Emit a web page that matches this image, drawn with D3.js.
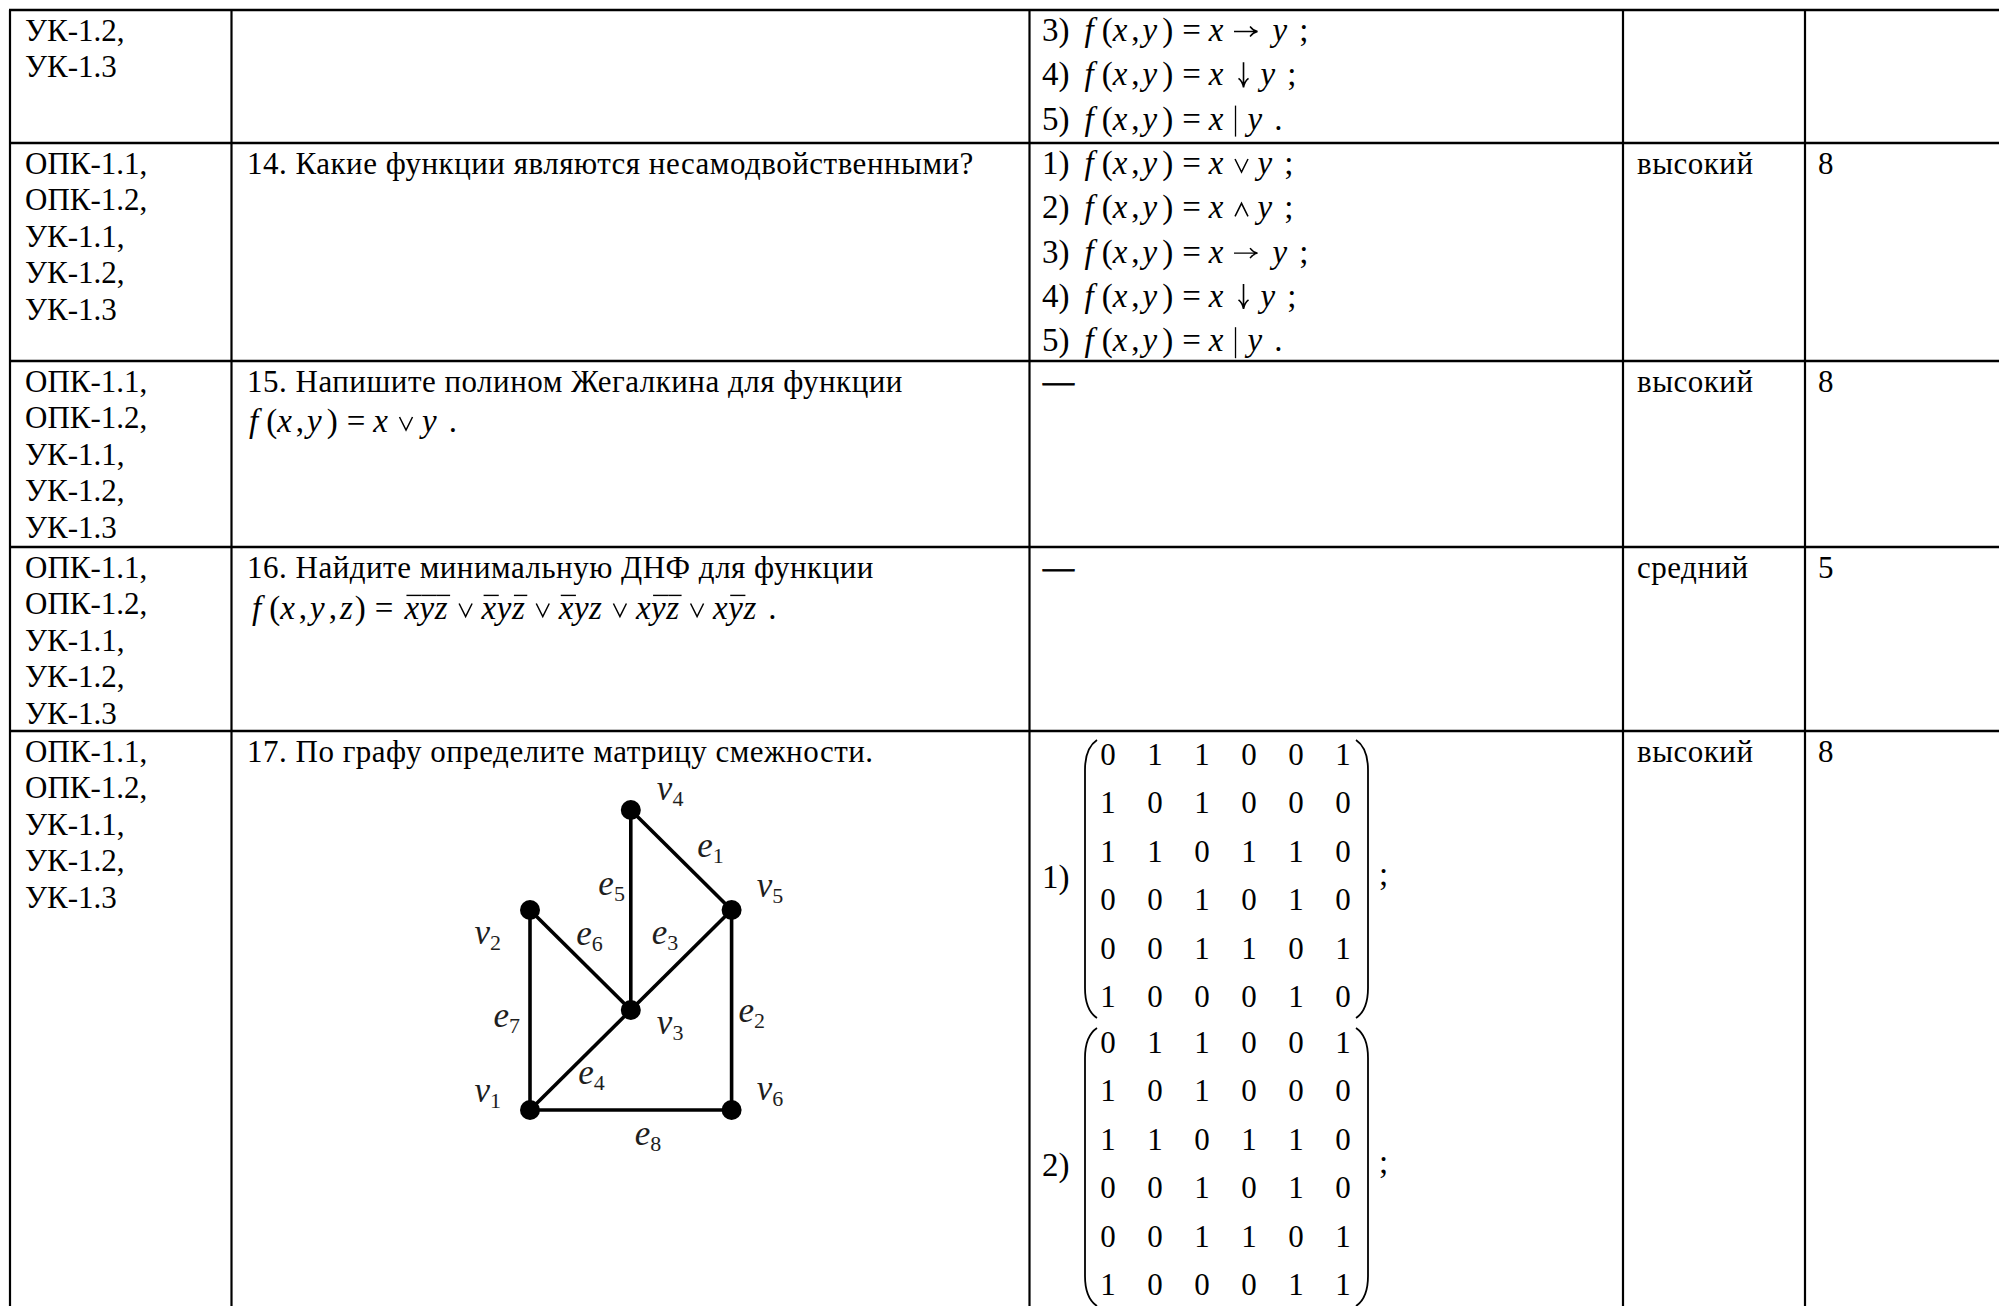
<!DOCTYPE html>
<html><head><meta charset="utf-8">
<script src="https://cdn.jsdelivr.net/npm/d3@7"></script>
<style>
html,body{margin:0;padding:0;background:#fff}
svg{display:block}
text{font-family:"Liberation Serif","Times New Roman","DejaVu Serif",serif;white-space:pre;fill:#000}
</style></head>
<body>
<svg id="c" width="1999" height="1306"></svg>
<script>
// ---------------- DATA ----------------
const competencies = [
  ["УК-1.2,", "УК-1.3"],
  ["ОПК-1.1,", "ОПК-1.2,", "УК-1.1,", "УК-1.2,", "УК-1.3"],
  ["ОПК-1.1,", "ОПК-1.2,", "УК-1.1,", "УК-1.2,", "УК-1.3"],
  ["ОПК-1.1,", "ОПК-1.2,", "УК-1.1,", "УК-1.2,", "УК-1.3"],
  ["ОПК-1.1,", "ОПК-1.2,", "УК-1.1,", "УК-1.2,", "УК-1.3"]
];
const questions = [
  "",
  "14. Какие функции являются несамодвойственными?",
  "15. Напишите полином Жегалкина для функции",
  "16. Найдите минимальную ДНФ для функции",
  "17. По графу определите матрицу смежности."
];
const levels = ["", "высокий", "высокий", "средний", "высокий"];
const points = ["", "8", "8", "5", "8"];
// answer options f(x,y) = x OP y
const optionsRow13 = [["3)", "→", ";"], ["4)", "↓", ";"], ["5)", "|", "."]];
const optionsRow14 = [["1)", "∨", ";"], ["2)", "∧", ";"], ["3)", "→", ";"], ["4)", "↓", ";"], ["5)", "|", "."]];
const zhegalkinOp = "∨";
// minterms of the DNF function (0 = negated variable)
const dnfMinterms = ["000", "010", "011", "100", "101"];
const dnfVars = ["x", "y", "z"];
const openAnswerMark = "—";
// graph (grid units)
const graphNodes = [
  {id: "v1", sub: "1", gx: 0, gy: 3, lx: -0.42, ly: 2.90},
  {id: "v2", sub: "2", gx: 0, gy: 1, lx: -0.42, ly: 1.32},
  {id: "v3", sub: "3", gx: 1, gy: 2, lx: 1.39, ly: 2.22},
  {id: "v4", sub: "4", gx: 1, gy: 0, lx: 1.39, ly: -0.12},
  {id: "v5", sub: "5", gx: 2, gy: 1, lx: 2.38, ly: 0.85},
  {id: "v6", sub: "6", gx: 2, gy: 3, lx: 2.38, ly: 2.88}
];
const graphEdges = [
  {id: "e1", sub: "1", s: "v4", t: "v5", lx: 1.79, ly: 0.45},
  {id: "e2", sub: "2", s: "v5", t: "v6", lx: 2.20, ly: 2.10},
  {id: "e3", sub: "3", s: "v3", t: "v5", lx: 1.34, ly: 1.32},
  {id: "e4", sub: "4", s: "v1", t: "v3", lx: 0.61, ly: 2.72},
  {id: "e5", sub: "5", s: "v4", t: "v3", lx: 0.81, ly: 0.83},
  {id: "e6", sub: "6", s: "v2", t: "v3", lx: 0.59, ly: 1.33},
  {id: "e7", sub: "7", s: "v2", t: "v1", lx: -0.23, ly: 2.15},
  {id: "e8", sub: "8", s: "v1", t: "v6", lx: 1.17, ly: 3.33}
];
const matrixLabels = ["1)", "2)"];
const matrices = [
  [[0,1,1,0,0,1],[1,0,1,0,0,0],[1,1,0,1,1,0],[0,0,1,0,1,0],[0,0,1,1,0,1],[1,0,0,0,1,0]],
  [[0,1,1,0,0,1],[1,0,1,0,0,0],[1,1,0,1,1,0],[0,0,1,0,1,0],[0,0,1,1,0,1],[1,0,0,0,1,1]]
];

// ---------------- LAYOUT ----------------
const W = 1999, H = 1306;
const colX = [10, 231.5, 1029.5, 1623, 1805];
const rowY = [10, 143, 361, 547, 731];
const FS = 31, LH = 36.6, MFS = 33, MLH = 44.3, LS = 0.5;
const svg = d3.select("#c");

// grid lines
svg.append("g").selectAll("line").data(rowY).join("line")
  .attr("x1", colX[0] - 1).attr("x2", W).attr("y1", d => d).attr("y2", d => d)
  .attr("stroke", "#000").attr("stroke-width", 2.6);
svg.append("g").selectAll("line").data(colX).join("line")
  .attr("x1", d => d).attr("x2", d => d).attr("y1", rowY[0]).attr("y2", H)
  .attr("stroke", "#000").attr("stroke-width", 2.2);

// column 1: competencies
const g1 = svg.append("g");
competencies.forEach((lines, r) => {
  g1.selectAll(null).data(lines).join("text")
    .attr("x", 25).attr("y", (d, i) => rowY[r] + 30.5 + i * LH)
    .attr("font-size", FS).text(d => d);
});
// column 2: questions
svg.append("g").selectAll("text").data(questions).join("text")
  .attr("x", 247).attr("y", (d, i) => rowY[i] + 30.5)
  .attr("font-size", FS).attr("letter-spacing", LS).text(d => d);
// columns 4,5
svg.append("g").selectAll("text").data(levels).join("text")
  .attr("x", 1637).attr("y", (d, i) => rowY[i] + 30.5)
  .attr("font-size", FS).attr("letter-spacing", LS).text(d => d);
svg.append("g").selectAll("text").data(points).join("text")
  .attr("x", 1818).attr("y", (d, i) => rowY[i] + 30.5)
  .attr("font-size", FS).text(d => d);

// ---------- math flow ----------
// operator glyphs drawn as thin strokes (centre offset, following offset)
const OPS = {
  "∨": {sp: [18, 16], d: (c, y) => `M${c-6.5},${y-15} L${c},${y-2} L${c+6.5},${y-15}`, w: 1.5},
  "∧": {sp: [18, 16], d: (c, y) => `M${c-6.5},${y-2} L${c},${y-15} L${c+6.5},${y-2}`, w: 1.5},
  "→": {sp: [22, 27], d: (c, y) => `M${c-11.5},${y-9.5} L${c+11.5},${y-9.5} M${c+4.5},${y-14.5} Q${c+7.5},${y-10.5} ${c+12},${y-9.5} Q${c+7.5},${y-8.5} ${c+4.5},${y-4.5}`, w: 1.4},
  "↓": {sp: [20, 17], d: (c, y) => `M${c},${y-23} L${c},${y+1} M${c-5},${y-7} Q${c-1},${y-4} ${c},${y+2} Q${c+1},${y-4} ${c+5},${y-7}`, w: 1.6},
  "|": {sp: [12, 12], d: (c, y) => `M${c},${y-24} L${c},${y+7}`, w: 1.3}
};
function flow(g, x, y, toks, fs) {
  let cx = x;
  toks.forEach(k => {
    cx += (k.g || 0);
    if (k.op) {
      const o = OPS[k.op];
      g.append("path").attr("d", o.d(cx + o.sp[0], y)).attr("fill", "none")
        .attr("stroke", "#000").attr("stroke-width", o.w);
      cx += o.sp[0] + o.sp[1];
      return;
    }
    const t = g.append("text").attr("x", cx).attr("y", y).attr("font-size", fs).text(k.t);
    if (k.i) t.attr("font-style", "italic");
    const w = t.node().getComputedTextLength();
    if (k.o) {
      const yy = y - fs * 0.7;
      g.append("line").attr("x1", cx + 2).attr("x2", cx + w + 2.5)
        .attr("y1", yy).attr("y2", yy).attr("stroke", "#000").attr("stroke-width", 1.4);
    }
    cx += w;
  });
  return cx;
}
function lhs(vars) {
  const t = [{t: "f", i: 1}, {t: "(", g: 8}];
  vars.forEach((v, j) => {
    if (j > 0) t.push({t: ",", g: 4});
    t.push({t: v, i: 1, g: j > 0 ? 3 : 0});
  });
  t.push({t: ")", g: vars.length > 2 ? 2 : 5}, {t: "=", g: 9});
  return t;
}
function binaryRhs(op, end) {
  return [{t: "x", i: 1, g: 8}, {op: op}, {t: "y", i: 1}, {t: end, g: 12}];
}
function option(g, y, item) {
  const toks = [{t: item[0]}].concat(lhs(["x", "y"]), binaryRhs(item[1], item[2]));
  toks[1].g = 15;
  flow(g, 1042, y, toks, MFS);
}
const g3 = svg.append("g");
optionsRow13.forEach((it, i) => option(g3, rowY[0] + 31 + i * MLH, it));
optionsRow14.forEach((it, i) => option(g3, rowY[1] + 31 + i * MLH, it));

// question 15 formula
flow(svg.append("g"), 249, rowY[2] + 30.5 + 40.5, lhs(["x", "y"]).concat(binaryRhs(zhegalkinOp, ".")), MFS);
// question 16 formula (DNF)
const dnfToks = lhs(["x", "y", "z"]);
dnfMinterms.forEach((m, ti) => {
  if (ti > 0) dnfToks.push({op: "∨"});
  m.split("").forEach((b, li) => {
    dnfToks.push({t: dnfVars[li], i: 1, o: b === "0", g: li === 0 ? (ti === 0 ? 11 : 0) : 0.5});
  });
});
dnfToks.push({t: ".", g: 12});
flow(svg.append("g"), 252, rowY[3] + 30.5 + 41, dnfToks, MFS);

// open answers dash
svg.append("g").selectAll("text").data([2, 3]).join("text")
  .attr("x", 1043).attr("y", r => rowY[r] + 31).attr("font-size", FS)
  .attr("stroke", "#000").attr("stroke-width", 0.9).text(openAnswerMark);

// ---------- graph ----------
const gx = d3.scaleLinear().domain([0, 2]).range([530, 731.6]);
const gy = d3.scaleLinear().domain([0, 3]).range([810, 1110]);
const nodeById = new Map(graphNodes.map(n => [n.id, n]));
const gg = svg.append("g");
gg.selectAll("line").data(graphEdges).join("line")
  .attr("x1", d => gx(nodeById.get(d.s).gx)).attr("y1", d => gy(nodeById.get(d.s).gy))
  .attr("x2", d => gx(nodeById.get(d.t).gx)).attr("y2", d => gy(nodeById.get(d.t).gy))
  .attr("stroke", "#000").attr("stroke-width", 3.6);
gg.selectAll("circle").data(graphNodes).join("circle")
  .attr("cx", d => gx(d.gx)).attr("cy", d => gy(d.gy)).attr("r", 10).attr("fill", "#000");
function glabel(d, letter) {
  const t = gg.append("text").attr("x", gx(d.lx)).attr("y", gy(d.ly) + 2)
    .attr("text-anchor", "middle").attr("font-size", 35).style("fill", "#1e1e1e");
  t.append("tspan").attr("font-style", "italic").text(letter);
  t.append("tspan").attr("font-size", 22).attr("dy", 6).text(d.sub);
}
graphNodes.forEach(d => glabel(d, "v"));
graphEdges.forEach(d => glabel(d, "e"));

// ---------- matrices ----------
const mx = d3.scaleLinear().domain([0, 5]).range([1108, 1343]);
const matCy = [879, 1167];
const gm = svg.append("g");
matrices.forEach((M, k) => {
  const cy = matCy[k];
  const my = d3.scaleLinear().domain([0, 5]).range([cy - 114, cy + 128]);
  M.forEach((row, i) => {
    gm.selectAll(null).data(row).join("text")
      .attr("x", (d, j) => mx(j)).attr("y", my(i)).attr("text-anchor", "middle")
      .attr("font-size", 31).text(d => d);
  });
  const top = cy - 139, bot = cy + 139;
  gm.append("path").attr("fill", "none").attr("stroke", "#000").attr("stroke-width", 1.8)
    .attr("d", `M1097,${top} Q1085,${top + 8} 1085,${top + 30} L1085,${bot - 30} Q1085,${bot - 8} 1097,${bot}`);
  gm.append("path").attr("fill", "none").attr("stroke", "#000").attr("stroke-width", 1.8)
    .attr("d", `M1356,${top} Q1368,${top + 8} 1368,${top + 30} L1368,${bot - 30} Q1368,${bot - 8} 1356,${bot}`);
  gm.append("text").attr("x", 1042).attr("y", cy + 9).attr("font-size", MFS).text(matrixLabels[k]);
  gm.append("text").attr("x", 1379).attr("y", cy + 6).attr("font-size", MFS).text(";");
});
</script>
</body></html>
